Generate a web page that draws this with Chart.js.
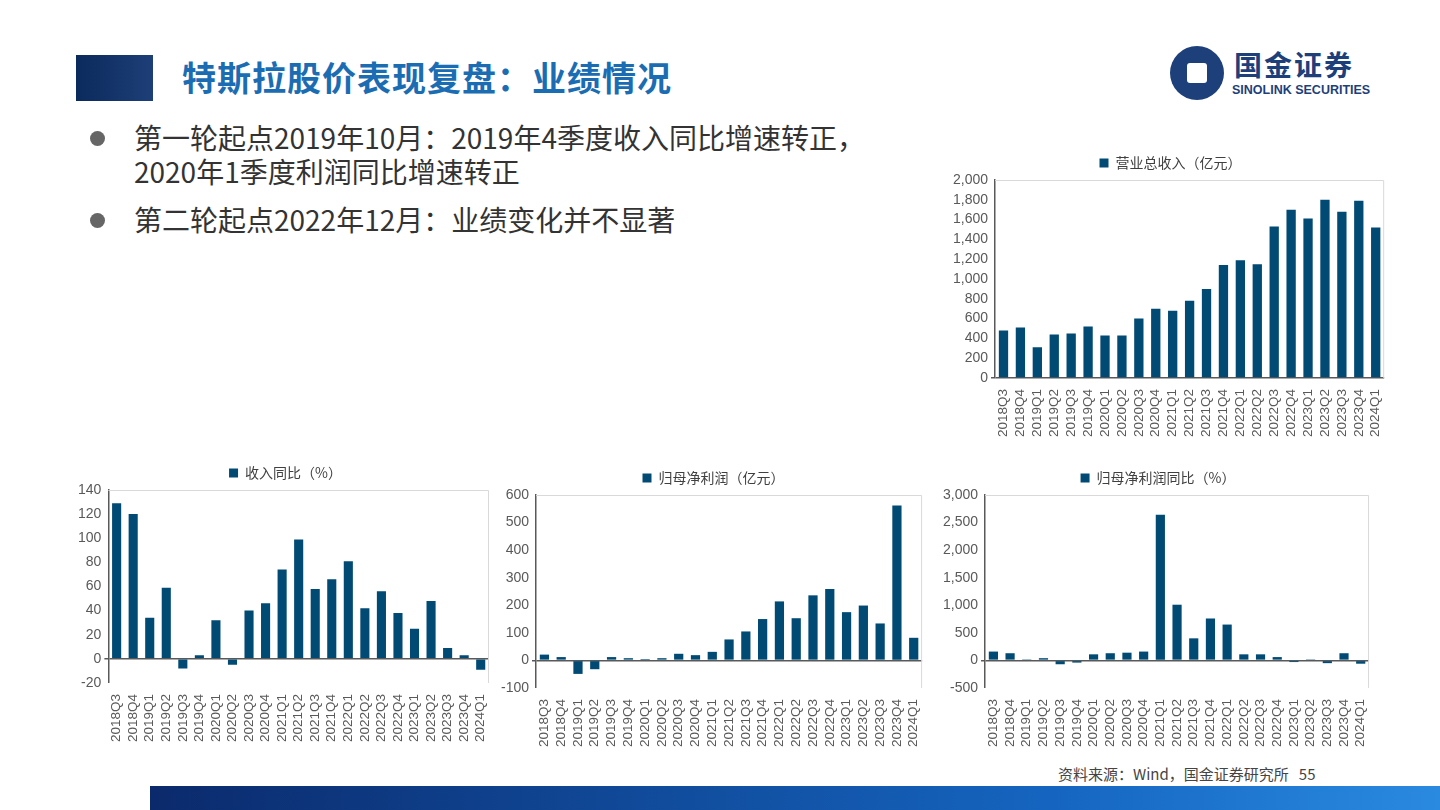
<!DOCTYPE html>
<html><head><meta charset="utf-8">
<script src="https://cdn.jsdelivr.net/npm/chart.js@4/dist/chart.umd.min.js"></script>
<style>
body{margin:0;width:1440px;height:810px;background:#fff;position:relative;overflow:hidden;font-family:"Noto Sans CJK SC","Noto Sans",sans-serif}
.box{position:absolute}
#banner{left:76px;top:55px;width:77px;height:46px;background:linear-gradient(90deg,#0b2a5c,#1d3f78)}
#title{left:182px;top:52px;font-size:34px;font-weight:bold;color:#1b6db3;letter-spacing:1px}
.bul{position:absolute;left:90px;font-size:28px;color:#333;line-height:34px}
.bul:before{content:"";position:absolute;left:0;top:11px;width:15px;height:15px;border-radius:50%;background:#666}
.bul span{display:block;padding-left:44px}
#logo{left:1170px;top:46px;width:240px;height:56px}
#bottom{left:150px;top:786px;width:1290px;height:24px;background:linear-gradient(90deg,#0b2a6c,#1565c0 70%,#2a8ae0)}
#src{left:1058px;top:763px;font-size:15px;color:#444}
canvas{display:block}
</style></head><body>
<div class="box" id="banner"></div>
<div class="box" id="title">特斯拉股价表现复盘：业绩情况</div>
<div class="box" id="logo">
  <div style="position:absolute;left:0;top:0;width:54px;height:54px;border-radius:50%;background:#1d3f7a"></div>
  <div style="position:absolute;left:17px;top:17px;width:20px;height:20px;background:#fff;border-radius:3px"></div>
  <div style="position:absolute;left:64px;top:-2px;font-size:28px;font-weight:bold;color:#1d3f7a;letter-spacing:2px">国金证券</div>
  <div style="position:absolute;left:62px;top:37px;font-size:12.5px;font-weight:bold;color:#1d3f7a;font-family:'Liberation Sans'">SINOLINK SECURITIES</div>
</div>
<div class="bul" style="top:120px"><span>第一轮起点2019年10月：2019年4季度收入同比增速转正，</span><span>2020年1季度利润同比增速转正</span></div>
<div class="bul" style="top:202px"><span>第二轮起点2022年12月：业绩变化并不显著</span></div>
<div class="box" style="left:950px;top:150px;width:445px;height:290px"><canvas id="c1"></canvas></div>
<div class="box" style="left:75px;top:460px;width:425px;height:285px"><canvas id="c2"></canvas></div>
<div class="box" style="left:498px;top:465px;width:435px;height:285px"><canvas id="c3"></canvas></div>
<div class="box" style="left:940px;top:465px;width:440px;height:285px"><canvas id="c4"></canvas></div>
<div class="box" id="src">资料来源：Wind，国金证券研究所&nbsp;&nbsp;&nbsp;55</div>
<div class="box" id="bottom"></div>
<script>
const quarters = ["2018Q3","2018Q4","2019Q1","2019Q2","2019Q3","2019Q4","2020Q1","2020Q2","2020Q3","2020Q4","2021Q1","2021Q2","2021Q3","2021Q4","2022Q1","2022Q2","2022Q3","2022Q4","2023Q1","2023Q2","2023Q3","2023Q4","2024Q1"];
const revenue = [480,510,310,440,450,520,430,430,600,700,680,780,900,1140,1190,1150,1530,1700,1610,1800,1680,1790,1520];
const revenueYoy = [129,120,34,59,-8,3,32,-5,40,46,74,99,58,66,81,42,56,38,25,48,9,3,-9];
const profit = [21,12,-49,-32,12,8,5,8,24,19,31,76,105,150,214,153,236,259,175,199,134,562,82];
const profitYoy = [160,130,20,40,-70,-40,110,130,140,160,2640,1010,400,760,650,110,110,60,-30,20,-50,130,-60];

const BAR = "#004a74";
const frame = {
  id: "frame",
  afterDraw(chart) {
    const a = chart.chartArea, ctx = chart.ctx;
    ctx.save();
    ctx.strokeStyle = "#d9d9d9"; ctx.lineWidth = 1;
    ctx.beginPath();
    ctx.moveTo(a.left, a.top + 0.5); ctx.lineTo(a.right - 0.5, a.top + 0.5); ctx.lineTo(a.right - 0.5, a.bottom);
    ctx.stroke();
    ctx.restore();
  }
};

function makeChart(id, title, data, min, max, step) {
  new Chart(document.getElementById(id), {
    type: "bar",
    data: { labels: quarters, datasets: [{ label: title, data: data, backgroundColor: BAR, categoryPercentage: 1, barPercentage: 0.55 }] },
    options: {
      responsive: true, maintainAspectRatio: false, animation: false,
      layout: { padding: { right: 4 } },
      plugins: {
        legend: { labels: { boxWidth: 9, boxHeight: 9, color: "#404040", font: { size: 14, family: "Noto Sans CJK SC" }, padding: 6 } },
        tooltip: { enabled: false }
      },
      scales: {
        x: {
          grid: { display: false }, border: { display: false },
          ticks: { color: "#595959", font: { size: 13.5, family: "Liberation Sans" }, maxRotation: 90, minRotation: 90, autoSkip: false }
        },
        y: {
          min: min, max: max,
          border: { color: "#595959", width: 1.5 },
          grid: { drawOnChartArea: true, tickLength: 4, color: c => c.tick && c.tick.value === 0 ? "#595959" : "rgba(0,0,0,0)", lineWidth: c => c.tick && c.tick.value === 0 ? 1.5 : 0 },
          ticks: { stepSize: step, autoSkip: false, color: "#595959", font: { size: 14, family: "Liberation Sans" }, callback: v => v.toLocaleString("en-US") }
        }
      }
    },
    plugins: [frame]
  });
}

makeChart("c1", "营业总收入（亿元）", revenue, 0, 2000, 200);
makeChart("c2", "收入同比（%）", revenueYoy, -20, 140, 20);
makeChart("c3", "归母净利润（亿元）", profit, -100, 600, 100);
makeChart("c4", "归母净利润同比（%）", profitYoy, -500, 3000, 500);
</script>
</body></html>
